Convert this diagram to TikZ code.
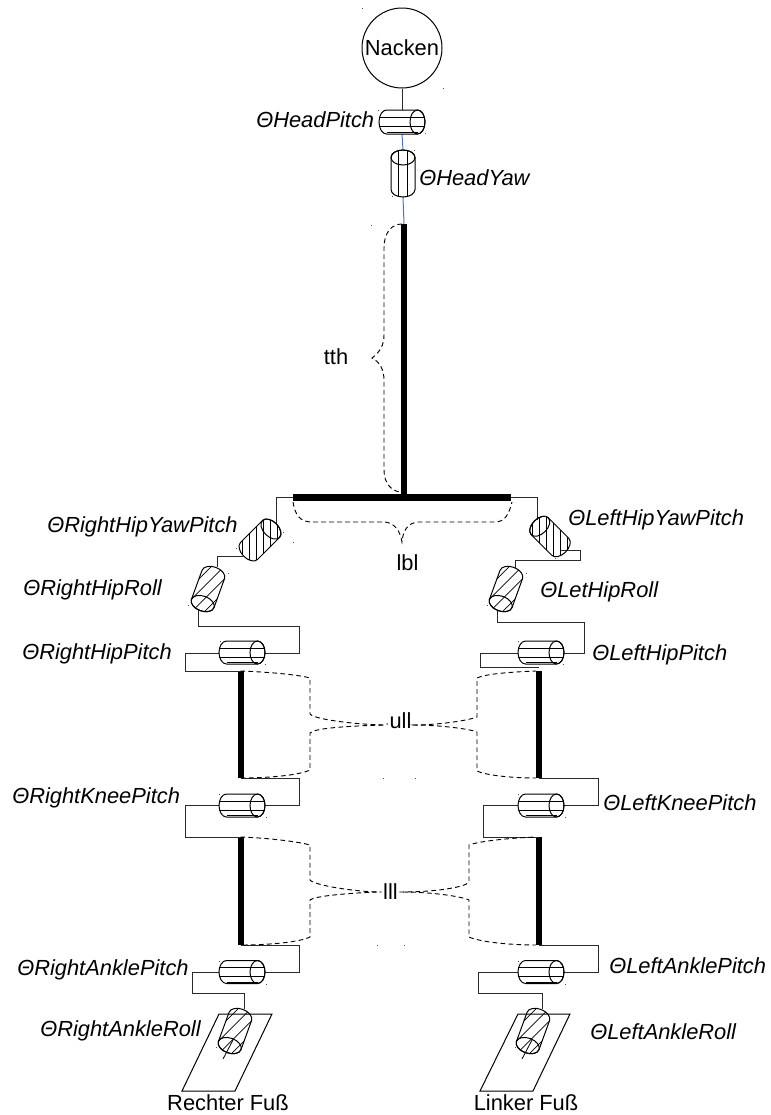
\documentclass[tikz,border=0pt]{standalone}
\usepackage{fontspec}
\setmainfont{Liberation Sans}
\definecolor{wirecol}{HTML}{2A2A2A}
\definecolor{bluecol}{HTML}{4A78B8}
\tikzset{
  wire/.style={draw=wirecol,line width=0.75pt},
  bluewire/.style={draw=bluecol,line width=0.75pt},
  limb/.style={draw=black,line width=4.5pt},
  hipbar/.style={draw=black,line width=5.25pt},
  brace/.style={draw=black,line width=0.7pt,dash pattern=on 3.5pt off 2.5pt},
  cylline/.style={draw=black,line width=0.6pt},
  jointlabel/.style={anchor=west,inner sep=0pt,font=\fontsize{16.4}{19}\selectfont\itshape,text height=11.8pt,text depth=0pt},
  plainlabel/.style={inner sep=0pt,font=\fontsize{16.4}{19}\selectfont},
  speck/.style={fill=black!70,draw=none}
}
% #1 name, #2 x, #3 y, #4 rotation, #5 length, #6 radius, #7 cap radius, #8 hatch direction, #9 spacing
\newcommand{\cylinder}[9]{%
  \coordinate (#1) at (#2,#3);
  \begin{scope}[shift={(#2,#3)},rotate=#4]
    \def\LL{#5/2}\def\RR{#6}\def\AA{#7}
    \begin{scope}
      \clip ({\LL-\AA},{-\RR}) -- ({-\LL+\AA},{-\RR})
      .. controls ({-\LL+0.45*\AA},{-\RR}) and ({-\LL},{-0.55*\RR}) .. ({-\LL},0)
      .. controls ({-\LL},{0.55*\RR}) and ({-\LL+0.45*\AA},{\RR}) .. ({-\LL+\AA},{\RR})
      -- ({\LL-\AA},{\RR})
      .. controls ({\LL-0.45*\AA},{\RR}) and ({\LL},{0.55*\RR}) .. ({\LL},0)
      .. controls ({\LL},{-0.55*\RR}) and ({\LL-0.45*\AA},{-\RR}) .. cycle;
      \begin{scope}[rotate={#8-#4}]
        \foreach \k in {-6,...,5} {
          \draw[cylline] (-45,{(\k+0.5)*#9}) -- (45,{(\k+0.5)*#9});
        }
      \end{scope}
    \end{scope}
    \draw[cylline,line width=0.75pt] ({\LL-\AA},{-\RR}) -- ({-\LL+\AA},{-\RR})
      .. controls ({-\LL+0.45*\AA},{-\RR}) and ({-\LL},{-0.55*\RR}) .. ({-\LL},0)
      .. controls ({-\LL},{0.55*\RR}) and ({-\LL+0.45*\AA},{\RR}) .. ({-\LL+\AA},{\RR})
      -- ({\LL-\AA},{\RR})
      .. controls ({\LL-0.45*\AA},{\RR}) and ({\LL},{0.55*\RR}) .. ({\LL},0)
      .. controls ({\LL},{-0.55*\RR}) and ({\LL-0.45*\AA},{-\RR}) .. cycle;
    \draw[cylline,line width=0.75pt] ({\LL-\AA},0) ellipse [x radius=#7,y radius=#6];
    \ifnum#4=0
      \draw[cylline] ({-\LL+\AA},{\RR-1.6}) -- ({\LL-\AA},{\RR-1.6});
    \fi
  \end{scope}
}
\begin{document}
\begin{tikzpicture}[x=0.75pt,y=-0.75pt]
\useasboundingbox (0,0) rectangle (771,1115);
\fill[white] (0,0) rectangle (771,1115);

% named ports
\foreach \n/\x/\y in {
 hp-b/402/134, hy-t/403/150, hy-b/403/197, torso-t/404/224, torso-b/404/494,
 hipL/293/497.5, hipR/511/497.5,
 ryp-t/276/523, ryp-b/243/556, rr-t/217/567, rr-b/198/610,
 rhp-r/265/653, rhp-l/219/653, rul-t/240.5/671, rul-b/240.5/778,
 rk-r/265/805, rk-l/219/805, rll-t/240.5/837, rll-b/240.5/945,
 ra-r/265/972, ra-l/219/972, rar-t/244/1009,
 lyp-t/537/520, lyp-b/561/550, lr-t/515/568, lr-b/497/610,
 lhp-r/563/653, lhp-l/518/653, lul-t/539/667, lul-b/539/778,
 lk-r/563/805, lk-l/518/805, lll-t/539/837, lll-b/539/945,
 la-r/563/972, la-l/518/972, lar-t/542/1009,
 rax-a/233/1040, rax-b/223/1059, lax-a/532/1040, lax-b/522/1059,
 ulltip-l/383/725, ulltip-r/413/725, llltip-l/377/892, llltip-r/403/892,
 tthtip/372/358, lbltip/402/542} {
  \coordinate (\n) at (\x,\y);
}

% Feet
\draw[cylline,line width=0.75pt] (219,1014) -- (272,1014) -- (235,1091) -- (182,1091) -- cycle;
\draw[cylline,line width=0.75pt] (518,1014) -- (570,1014) -- (533,1091) -- (480,1091) -- cycle;

% Rigid links
\draw[limb] (torso-t) -- (torso-b);
\draw[hipbar] (hipL) -- (hipR);
\draw[limb] (rul-t) -- (rul-b);
\draw[limb] (rll-t) -- (rll-b);
\draw[limb] (lul-t) ++(0,4) -- (lul-b);
\draw[limb] (lll-t) -- (lll-b);

% Wires
\node[circle,draw=black,line width=0.75pt,minimum size=60pt,inner sep=0pt,plainlabel] (nacken) at (402,48) {Nacken};
\draw[wire] (nacken.south) -- (402,110);
\draw[bluewire] (hp-b) -- (hy-t);
\draw[bluewire] (hy-b) -- (torso-t);

\draw[wire] (hipL) -- (276,497.5) -- (ryp-t);
\draw[wire] (ryp-b) -- (217,556) -- (rr-t);
\draw[wire] (rr-b) -- (198,626) -- (299,626) -- (299,653) -- (rhp-r);
\draw[wire] (rhp-l) -- (185,653) -- (185,671) -- (rul-t);
\draw[wire] (rul-b) -- (299,778) -- (299,805) -- (rk-r);
\draw[wire] (rk-l) -- (185,805) -- (185,837) -- (rll-t);
\draw[wire] (rll-b) -- (299,945) -- (299,972) -- (ra-r);
\draw[wire] (ra-l) -- (192,972) -- (192,993) -- (244,993) -- (rar-t);

\draw[wire] (hipR) -- (537,497.5) -- (lyp-t);
\draw[wire] (lyp-b) -- (580,550) -- (580,560) -- (515,560) -- (lr-t);
\draw[wire] (lr-b) -- (497,622) -- (584,622) -- (584,653) -- (lhp-r);
\draw[wire] (lhp-l) -- (480,653) -- (480,667) -- (lul-t);
\draw[wire] (lul-b) -- (598,778) -- (598,805) -- (lk-r);
\draw[wire] (lk-l) -- (483,805) -- (483,837) -- (lll-t);
\draw[wire] (lll-b) -- (598,945) -- (598,972) -- (la-r);
\draw[wire] (la-l) -- (478,972) -- (478,993) -- (542,993) -- (lar-t);

% Joints
\cylinder{hp}{402}{122}{0}{46}{12}{7.5}{0}{9}
\cylinder{hy}{403}{173.5}{90}{47}{12}{7.5}{90}{9}
\cylinder{ryp}{260}{540}{45}{46}{12}{7.5}{90}{7}
\cylinder{rr}{208}{589}{250}{46}{12}{7.5}{45}{9}
\cylinder{rhp}{242}{652.5}{0}{46}{11.5}{7.5}{0}{9}
\cylinder{rk}{242}{805.5}{0}{46}{11.5}{7.5}{0}{9}
\cylinder{ra}{242}{972}{0}{46}{11.5}{7.5}{0}{9}
\cylinder{rar}{235}{1031}{250}{46}{12}{7.5}{45}{9}
\cylinder{lyp}{550}{536.5}{135}{44}{12}{7.5}{90}{7}
\cylinder{lr}{506}{589}{250}{46}{12}{7.5}{45}{9}
\cylinder{lhp}{541}{652.5}{0}{46}{11.5}{7.5}{0}{9}
\cylinder{lk}{541}{805.5}{0}{46}{11.5}{7.5}{0}{9}
\cylinder{la}{541}{972}{0}{46}{11.5}{7.5}{0}{9}
\cylinder{lar}{533}{1031}{250}{46}{12}{7.5}{45}{9}
\draw[cylline] (rax-a) -- (rax-b);
\draw[cylline] (lax-a) -- (lax-b);

% Braces
\draw[brace] (402,224) .. controls (392,224) and (384,232) .. (384,248) -- (384,335) .. controls (384,345) and (380,352) .. (tthtip)
  .. controls (380,362) and (384,370) .. (384,380) -- (384,470) .. controls (384,484) and (392,491) .. (400,492);
\draw[brace] (293,502) .. controls (295,515) and (300,522) .. (312,522) -- (385,522) .. controls (394,523) and (400,530) .. (lbltip)
  .. controls (403,530) and (408,523) .. (418,522) -- (495,522) .. controls (505,522) and (509,514) .. (512,502);
\node[plainlabel] (tth) at (336,357) {tth};
\node[plainlabel] (lbl) at (407.5,563) {lbl};
\node[plainlabel,fill=white,inner xsep=1pt] (ull) at (400.5,721) {ull};
\node[plainlabel,fill=white,inner xsep=1pt] (lll) at (390.5,892) {lll};
\draw[brace] (240.5,671) .. controls (270,672) and (300,675) .. (310,678) -- (310,714) .. controls (314,719) and (350,724) .. (ulltip-l) -- (ull);
\draw[brace] (ulltip-l) .. controls (350,726) and (314,728) .. (310,733) -- (310,770) .. controls (300,775) and (270,778) .. (240.5,778);
\draw[brace] (ull) -- (ulltip-r) .. controls (440,725) and (470,720) .. (477,717) -- (477,678) .. controls (485,674) and (510,672) .. (536,671);
\draw[brace] (ulltip-r) .. controls (440,725) and (470,729) .. (477,732) -- (477,771) .. controls (485,775) and (510,778) .. (536,778);
\draw[brace] (240.5,837) .. controls (270,838) and (300,842) .. (310,845) -- (310,880) .. controls (314,885) and (350,891) .. (llltip-l) -- (lll);
\draw[brace] (llltip-l) .. controls (350,893) and (314,896) .. (310,900) -- (310,937) .. controls (300,942) and (270,945) .. (240.5,945);
\draw[brace] (lll) -- (llltip-r) .. controls (430,892) and (465,888) .. (469,882) -- (469,845) .. controls (480,841) and (510,838) .. (536,837);
\draw[brace] (llltip-r) .. controls (430,892) and (460,896) .. (469,900) -- (469,937) .. controls (480,942) and (510,945) .. (536,945);

% Labels
\node[jointlabel] (l1) at (256,120) {ΘHeadPitch};
\node[jointlabel] (l2) at (419,178) {ΘHeadYaw};
\node[jointlabel] (l3) at (47,525) {ΘRightHipYawPitch};
\node[jointlabel] (l4) at (568,518) {ΘLeftHipYawPitch};
\node[jointlabel] (l5) at (23,588) {ΘRightHipRoll};
\node[jointlabel] (l6) at (540,590) {ΘLetHipRoll};
\node[jointlabel] (l7) at (22,652) {ΘRightHipPitch};
\node[jointlabel] (l8) at (592,653) {ΘLeftHipPitch};
\node[jointlabel] (l9) at (12,796) {ΘRightKneePitch};
\node[jointlabel] (l10) at (603,803) {ΘLeftKneePitch};
\node[jointlabel] (l11) at (17,968) {ΘRightAnklePitch};
\node[jointlabel] (l12) at (609,966) {ΘLeftAnklePitch};
\node[jointlabel] (l13) at (40,1029) {ΘRightAnkleRoll};
\node[jointlabel] (l14) at (590,1032) {ΘLeftAnkleRoll};
\node[plainlabel] (rf) at (228,1103) {Rechter Fuß};
\node[plainlabel] (lf) at (526,1103) {Linker Fuß};

% Stray specks
\foreach \x/\y in {362/8,443/88,378/110,425/133,414/150,392/196,371/225,283/532,293/542,236/548,228/573,188/605,220/641,265/664,
 383/778,415/778,377/945,404/945,545/516,555/558,526/573,487/605,518/641,563/664,219/794,518/794,266/817,565/817,219/961,518/961,266/984,565/984,216/1047,515/1047} {
  \fill[speck] (\x-0.5,\y-0.5) rectangle (\x+0.5,\y+0.5);
}
\end{tikzpicture}
\end{document}
